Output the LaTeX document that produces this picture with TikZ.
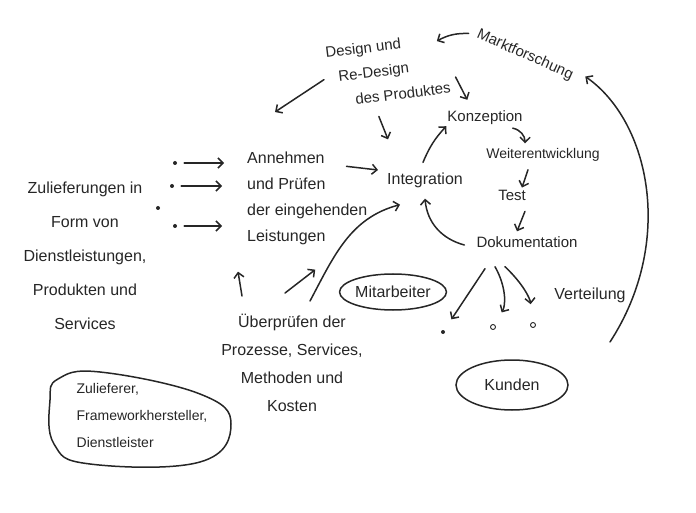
\documentclass[tikz,border=0pt]{standalone}
\usepackage{fontspec}
\setmainfont{Liberation Sans}
\usetikzlibrary{arrows.meta,shapes.geometric}

\begin{document}
\begin{tikzpicture}[x=1pt, y=1pt,
  every node/.style = {font=\fontsize{16}{26}\selectfont, text=black!85, inner sep=1pt},
  hand/.style = {draw=black!85, line width=1.5pt, line cap=round},
  arr/.style = {hand, -{Straight Barb[length=5pt, width=10pt]}},
  dot/.style = {circle, fill=black!85, inner sep=0pt, minimum size=4pt},
  ring/.style = {circle, draw=black!85, line width=0.9pt, inner sep=0pt, minimum size=5pt},
  bubble/.style = {ellipse, hand, inner sep=0pt}]
  \useasboundingbox (0,0) rectangle (696,512);

  \node (design) [rotate=7, align=left, font=\fontsize{15}{25}\selectfont] at (388,442)
    {Design und\\\hspace{10pt}Re-Design\\\hspace{24pt}des Produktes};
  \node (markt) [rotate=-24, font=\fontsize{15}{20}\selectfont] at (525,457) {Marktforschung};
  \node (konz) [font=\fontsize{15}{20}\selectfont] at (485,394) {Konzeption};
  \node (weiter) [font=\fontsize{14}{20}\selectfont] at (543,357) {Weiterentwicklung};
  \node (test) [font=\fontsize{15}{20}\selectfont] at (512,317) {Test};
  \node (doku) [font=\fontsize{15}{20}\selectfont] at (527,270) {Dokumentation};
  \node (integ) at (425,332) {Integration};
  \node (annehmen) [anchor=west, align=left] at (246,314)
    {Annehmen\\und Prüfen\\der eingehenden\\Leistungen};
  \node (zul) [align=center, font=\fontsize{16}{34}\selectfont] at (85,256)
    {Zulieferungen in\\Form von\\Dienstleistungen,\\Produkten und\\Services};
  \node (ueber) [align=center, font=\fontsize{16}{28}\selectfont] at (292,149)
    {Überprüfen der\\Prozesse, Services,\\Methoden und\\Kosten};
  \node (mitarb) [bubble, minimum width=104pt, minimum height=36pt] at (393,220) {Mitarbeiter};
  \node (kunden) [bubble, minimum width=112pt, minimum height=50pt] at (512,127) {Kunden};
  \node (zulf) [align=left, font=\fontsize{14}{27}\selectfont] at (142,97)
    {Zulieferer,\\Frameworkhersteller,\\Dienstleister};
  \node (verteil) at (590,217) {Verteilung};

  \draw[hand] plot[smooth cycle, tension=0.7] coordinates
    {(58,133) (100,140) (200,118) (231,88) (200,50) (90,48) (54,68) (50,112)};

  \node (d1) [dot] at (175,349) {};
  \node (d2) [dot] at (172,326) {};
  \node (d3) [dot] at (158,304) {};
  \node (d4) [dot] at (175,286) {};
  \node (e1) [dot] at (443,180) {};
  \node (e2) [ring] at (493,185) {};
  \node (e3) [ring] at (533,187) {};
  \coordinate (dl) at (275,400);
  \coordinate (vt) at (610,170);

  \draw[arr] ([xshift=-8pt]markt.west) to[bend right=15] ([shift={(-8,-10)}]design.north east);
  \draw[arr, shorten <=4pt] (design.west) -- (dl);
  \draw[arr] ([shift={(3,17)}]design.south east) -- ([shift={(21,10)}]konz.north west);
  \draw[arr] ([shift={(-13,-15)}]design.south) -- ([shift={(2,32)}]integ.north west);
  \draw[arr] ([shift={(-2,9)}]integ.north) to[bend left=10] (konz.south west);
  \draw[arr] ([shift={(-11,-2)}]konz.south east) to[bend left=40] ([shift={(-18,4)}]weiter.north);
  \draw[arr] ([shift={(-15,-7)}]weiter.south) -- ([shift={(10,1)}]test.north);
  \draw[arr] ([shift={(-2,-10)}]test.south east) -- ([shift={(-10,4)}]doku.north);
  \draw[arr] ([shift={(-11,-3)}]doku.west) to[out=165, in=-85] ([yshift=-10pt]integ.south);
  \draw[arr] ([shift={(-22,-16)}]annehmen.north east) -- ([shift={(-8,10)}]integ.west);

  \draw[arr, shorten <=7pt] (d1) -- ([xshift=-22pt]annehmen.west |- d1);
  \draw[arr, shorten <=7pt] (d2) -- ([xshift=-24pt]annehmen.west |- d2);
  \draw[arr, shorten <=7pt] (d4) -- ([xshift=-24pt]annehmen.west |- d4);

  \draw[arr] ([shift={(-50,17)}]ueber.north) -- ([shift={(-8,-26)}]annehmen.south west);
  \draw[arr] ([shift={(-7,20)}]ueber.north) -- ([shift={(8,-24)}]annehmen.south);
  \draw[arr] ([shift={(18,12)}]ueber.north) to[out=62, in=195] ([shift={(-25,-16)}]integ.south);

  \draw[arr, shorten >=13pt] ([shift={(-42,-20)}]doku.south) -- (e1);
  \draw[arr, shorten >=14pt] ([shift={(-32,-18)}]doku.south) to[bend left=30] (e2);
  \draw[arr, shorten >=18pt] ([shift={(-22,-18)}]doku.south) to[bend left=20] (e3);

  \draw[arr] (vt) .. controls (675,270) and (650,390) .. ([xshift=12pt]markt.east);
\end{tikzpicture}
\end{document}
